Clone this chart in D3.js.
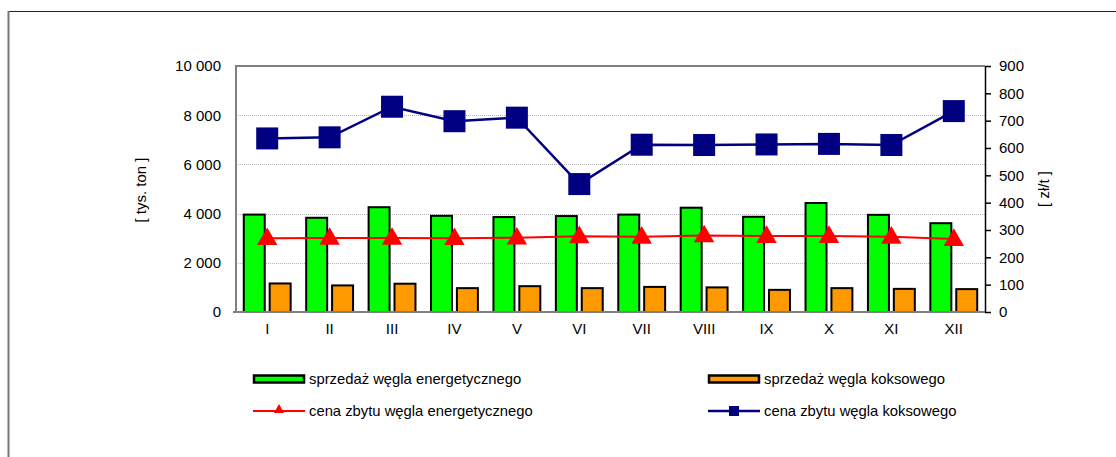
<!DOCTYPE html>
<html>
<head>
<meta charset="utf-8">
<script src="https://cdn.jsdelivr.net/npm/d3@7/dist/d3.min.js"></script>
<style>
  html, body { margin: 0; padding: 0; background: #fff; }
  svg { display: block; font-family: "Liberation Sans", Arial, sans-serif; }
</style>
</head>
<body>
<div id="chart"></div>
<script>
"use strict";

// months (roman numerals)
var months = ["I", "II", "III", "IV", "V", "VI", "VII", "VIII", "IX", "X", "XI", "XII"];
// sprzedaz [tys. ton]
var salesEnergy = [3960, 3830, 4260, 3910, 3860, 3900, 3960, 4240, 3870, 4430, 3950, 3610];
var salesCoking = [1160, 1080, 1150, 970, 1050, 970, 1020, 1000, 900, 970, 940, 930];
// cena zbytu [zl/t]
var priceEnergy = [270, 271, 271, 270, 272, 277, 275, 280, 278, 278, 275, 267];
var priceCoking = [635, 639, 751, 698, 711, 468, 612, 611, 613, 615, 611, 735];
var leftTicks = [0, 2000, 4000, 6000, 8000, 10000];
var rightTicks = [0, 100, 200, 300, 400, 500, 600, 700, 800, 900];

var legendItems = [
  { label: "sprzedaż węgla energetycznego", type: "bar", color: "#00ff00" },
  { label: "sprzedaż węgla koksowego", type: "bar", color: "#ff9900" },
  { label: "cena zbytu węgla energetycznego", type: "tri", color: "#ff0000" },
  { label: "cena zbytu węgla koksowego", type: "sq", color: "#000080" }
];

var width = 1116, height = 457;
var plot = { left: 236, right: 985, top: 66, bottom: 312 };

var svg = d3.select("#chart").append("svg")
  .attr("width", width)
  .attr("height", height);

// outer frame
svg.append("line").attr("x1", 8).attr("x2", width).attr("y1", 11.5).attr("y2", 11.5)
  .attr("stroke", "#222").attr("stroke-width", 1);
svg.append("line").attr("x1", 8.5).attr("x2", 8.5).attr("y1", 11).attr("y2", height)
  .attr("stroke", "#777").attr("stroke-width", 2);

var pl = d3.formatLocale({ decimal: ",", thousands: " ", grouping: [3], currency: ["", " zł"] });
var fmt = pl.format(",d");

var x = d3.scaleBand().domain(months).range([plot.left, plot.right]).padding(0);
var inner = d3.scaleBand().domain(["e", "k"]).range([0, x.bandwidth()])
  .paddingInner(0.19).paddingOuter(0.3);
var yL = d3.scaleLinear().domain([0, 10000]).range([plot.bottom, plot.top]);
var yR = d3.scaleLinear().domain([0, 900]).range([plot.bottom, plot.top]);

// grid
svg.append("g")
  .selectAll("line")
  .data(leftTicks.filter(function (d) { return d > 0 && d < 10000; }))
  .join("line")
  .attr("x1", plot.left).attr("x2", plot.right)
  .attr("y1", function (d) { return Math.round(yL(d)) + 0.5; })
  .attr("y2", function (d) { return Math.round(yL(d)) + 0.5; })
  .attr("stroke", "#b4b4b4").attr("stroke-width", 1).attr("stroke-dasharray", "1,1");

// frame of plot area (top, left, bottom)
svg.append("line").attr("x1", plot.left).attr("x2", plot.right).attr("y1", plot.top).attr("y2", plot.top)
  .attr("stroke", "#808080").attr("stroke-width", 2);
svg.append("line").attr("x1", plot.left).attr("x2", plot.left).attr("y1", plot.top - 1).attr("y2", plot.bottom + 1)
  .attr("stroke", "#808080").attr("stroke-width", 2);

// bars
var bars = svg.append("g").attr("stroke", "#000").attr("stroke-width", 2);
bars.selectAll("rect.e").data(salesEnergy).join("rect").attr("class", "e")
  .attr("x", function (d, i) { return x(months[i]) + inner("e"); })
  .attr("width", inner.bandwidth())
  .attr("y", function (d) { return yL(d); })
  .attr("height", function (d) { return yL(0) - yL(d); })
  .attr("fill", "#00ff00");
bars.selectAll("rect.k").data(salesCoking).join("rect").attr("class", "k")
  .attr("x", function (d, i) { return x(months[i]) + inner("k"); })
  .attr("width", inner.bandwidth())
  .attr("y", function (d) { return yL(d); })
  .attr("height", function (d) { return yL(0) - yL(d); })
  .attr("fill", "#ff9900");

svg.append("line").attr("x1", plot.left - 3).attr("x2", plot.right).attr("y1", plot.bottom).attr("y2", plot.bottom)
  .attr("stroke", "#808080").attr("stroke-width", 2);

// left axis labels
var axL = svg.append("g").attr("transform", "translate(" + plot.left + ",0)")
  .call(d3.axisLeft(yL).tickValues(leftTicks).tickFormat(fmt).tickSize(0).tickPadding(15));
axL.select(".domain").remove();
axL.selectAll("text").attr("font-size", 15).attr("fill", "#000").attr("font-family", "Liberation Sans, Arial, sans-serif");

// right axis
var axR = svg.append("g").attr("transform", "translate(" + plot.right + ",0)")
  .call(d3.axisRight(yR).tickValues(rightTicks).tickSizeOuter(0).tickSizeInner(6).tickPadding(8));
axR.select(".domain").attr("stroke", "#000").attr("stroke-width", 1.5);
axR.selectAll(".tick line").attr("stroke", "#000").attr("stroke-width", 1.5);
axR.selectAll("text").attr("font-size", 15).attr("fill", "#000").attr("font-family", "Liberation Sans, Arial, sans-serif");

// x labels
var axX = svg.append("g").attr("transform", "translate(0," + plot.bottom + ")")
  .call(d3.axisBottom(x).tickSize(0).tickPadding(11));
axX.select(".domain").remove();
axX.selectAll("text").attr("font-size", 15).attr("fill", "#000").attr("font-family", "Liberation Sans, Arial, sans-serif");

// axis titles
svg.append("text").attr("transform", "translate(146,190) rotate(-90)")
  .attr("text-anchor", "middle").attr("font-size", 15).text("[ tys. ton ]");
svg.append("text").attr("transform", "translate(1049,189) rotate(-90)")
  .attr("text-anchor", "middle").attr("font-size", 15).text("[ zł/t ]");

// lines
var cx = function (d, i) { return x(months[i]) + x.bandwidth() / 2; };
var lineR = d3.line().x(cx).y(function (d) { return yR(d); });

svg.append("path").datum(priceCoking).attr("d", lineR)
  .attr("fill", "none").attr("stroke", "#000080").attr("stroke-width", 2.5);
svg.append("g").selectAll("rect").data(priceCoking).join("rect")
  .attr("x", function (d, i) { return cx(d, i) - 11; })
  .attr("y", function (d) { return yR(d) - 11; })
  .attr("width", 22).attr("height", 22)
  .attr("fill", "#000080");

svg.append("path").datum(priceEnergy).attr("d", lineR)
  .attr("fill", "none").attr("stroke", "#ff0000").attr("stroke-width", 2);
var tri = d3.symbol().type(d3.symbolTriangle).size(180);
svg.append("g").selectAll("path").data(priceEnergy).join("path")
  .attr("d", tri)
  .attr("transform", function (d, i) { return "translate(" + cx(d, i) + "," + (yR(d) + 1) + ")"; })
  .attr("fill", "#ff0000");

// legend
var legX = [253, 708], legY = [379, 411];
var leg = svg.append("g").selectAll("g").data(legendItems).join("g")
  .attr("transform", function (d, i) { return "translate(" + legX[i % 2] + "," + legY[Math.floor(i / 2)] + ")"; });
leg.each(function (d) {
  var g = d3.select(this);
  if (d.type === "bar") {
    g.append("rect").attr("x", 1).attr("y", -3.5).attr("width", 50).attr("height", 7)
      .attr("fill", d.color).attr("stroke", "#000").attr("stroke-width", 2.5);
  } else {
    g.append("line").attr("x1", 0).attr("x2", 52).attr("y1", 0).attr("y2", 0)
      .attr("stroke", d.color).attr("stroke-width", d.type === "sq" ? 2.5 : 2);
    if (d.type === "sq") {
      g.append("rect").attr("x", 21).attr("y", -5).attr("width", 10).attr("height", 10).attr("fill", d.color);
    } else {
      g.append("path").attr("d", d3.symbol().type(d3.symbolTriangle).size(45)())
        .attr("transform", "translate(26,-1)").attr("fill", d.color);
    }
  }
  g.append("text").attr("x", 56).attr("y", 0).attr("dy", "0.35em")
    .attr("font-size", 14.8).attr("fill", "#000").text(d.label);
});
</script>
</body>
</html>
